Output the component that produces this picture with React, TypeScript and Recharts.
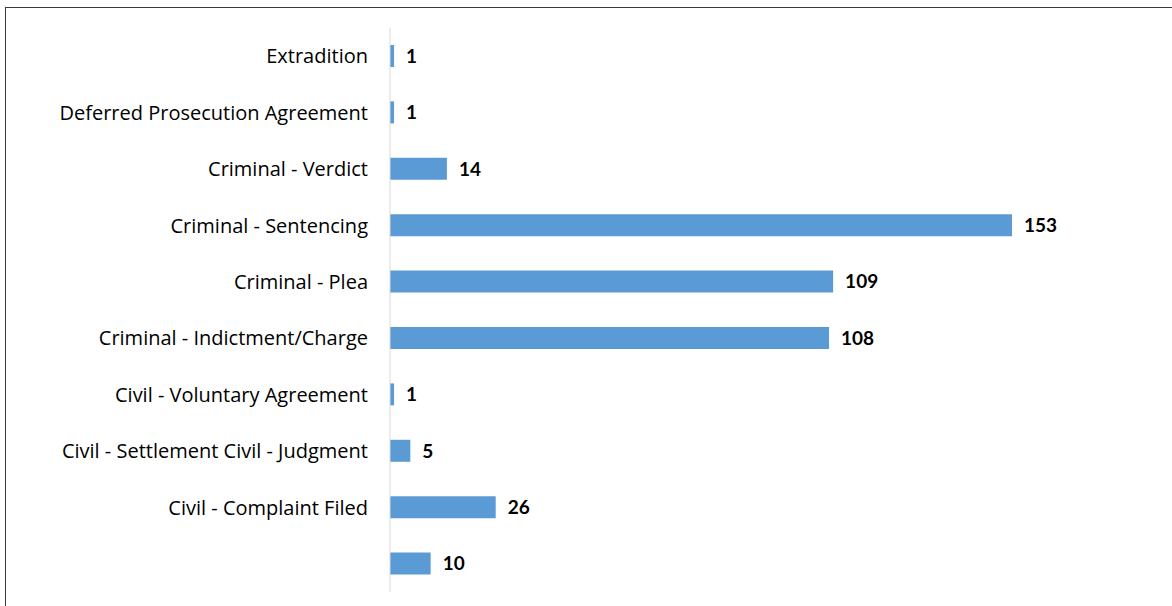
import React from "react";
import { BarChart, Bar, XAxis, YAxis, LabelList } from "recharts";

const categories = [
  "Extradition",
  "Deferred Prosecution Agreement",
  "Criminal - Verdict",
  "Criminal - Sentencing",
  "Criminal - Plea",
  "Criminal - Indictment/Charge",
  "Civil - Voluntary Agreement",
  "Civil - Settlement Civil - Judgment",
  "Civil - Complaint Filed",
  "",
];

const counts = [1, 1, 14, 153, 109, 108, 1, 5, 26, 10];

const data = categories.map((name, i) => ({ name, count: counts[i] }));

export default function App() {
  return (
    <div style={{ position: "relative", width: 1172, height: 606, overflow: "hidden", background: "#fff" }}>
      <style>{`body{margin:0}`}</style>
      <div
        style={{
          position: "absolute",
          left: 5,
          top: 7,
          width: 1300,
          height: 800,
          border: "1.5px solid #3a3a3a",
          boxSizing: "border-box",
        }}
      />
      <div style={{ position: "absolute", left: 0, top: 0 }}>
        <BarChart
          width={1172}
          height={606}
          data={data}
          layout="vertical"
          margin={{ top: 28, right: 160, bottom: 14, left: 0 }}
        >
          <XAxis type="number" hide domain={[0, 153]} />
          <YAxis
            type="category"
            dataKey="name"
            width={390}
            axisLine={{ stroke: "#d9d9d9" }}
            tickLine={false}
            tickMargin={16}
            interval={0}
            tick={{ fill: "#000", fontSize: 20, fontFamily: "Open Sans" }}
          />
          <Bar dataKey="count" fill="#5B9BD5" barSize={22} isAnimationActive={false}>
            <LabelList
              dataKey="count"
              position="right"
              offset={12}
              fill="#000"
              fontSize={19}
              fontWeight="bold"
              fontFamily="Lato"
            />
          </Bar>
        </BarChart>
      </div>
    </div>
  );
}
